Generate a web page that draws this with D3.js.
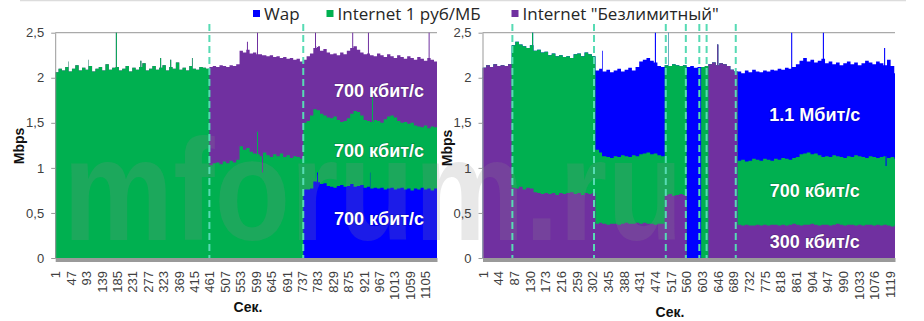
<!DOCTYPE html>
<html><head><meta charset="utf-8">
<script src="https://cdn.jsdelivr.net/npm/d3@7/dist/d3.min.js"></script>
<style>
html,body{margin:0;padding:0;background:#fff;}
svg{display:block;}
</style></head><body>
<svg id="c" width="924" height="321"></svg>
<script>
// ---------------- DATA ----------------
// Values sampled every 10 seconds (sample i covers seconds 1+10i .. 10+10i), Mbps
const seriesNames = ["Wap", "Internet 1 руб/МБ", "Internet \"Безлимитный\""];
const yTicks = [0, 0.5, 1, 1.5, 2, 2.5];
const leftTicks = [1,47,93,139,185,231,277,323,369,415,461,507,553,599,645,691,737,783,829,875,921,967,1013,1059,1105];
const rightTicks = [1,44,87,130,173,216,259,302,345,388,431,474,517,560,603,646,689,732,775,818,861,904,947,990,1033,1076,1119];
const leftN = 1140, rightN = 1133, sampleStep = 10, spikeWidth = 3;

const leftWap = [
 0,0,0,0,0,0,0,0,0,0, 0,0,0,0,0,0,0,0,0,0, 0,0,0,0,0,0,0,0,0,0, 0,0,0,0,0,0,0,0,0,0,
 0,0,0,0,0,0,0,0,0,0, 0,0,0,0,0,0,0,0,0,0, 0,0,0,0,0,0,0,0,0,0, 0,0,0,0,
 0.76,0.76,0.77,0.85,0.84,0.82,0.83,0.80,0.79,0.78,
 0.80,0.81,0.79,0.80,0.82,0.79,0.80,0.81,0.78,0.79,
 0.77,0.78,0.77,0.78,0.76,0.77,0.78,0.76,0.77,0.78,
 0.76,0.77,0.75,0.77,0.76,0.78,0.76,0.77,0.75,0.77
];
const leftInet = [
 2.06,2.10,2.08,2.12,2.07,2.10,2.14,2.08,2.11,2.09,
 2.13,2.07,2.10,2.12,2.08,2.15,2.09,2.11,2.12,2.08,
 2.10,2.13,2.07,2.11,2.09,2.12,2.16,2.08,2.10,2.13,
 2.09,2.11,2.14,2.08,2.12,2.10,2.17,2.09,2.11,2.08,
 2.13,2.10,2.09,2.12,2.11,2.10,
 1.03,1.05,1.06,1.04,1.07,1.05,1.08,1.06,1.09,
 1.24,1.20,1.22,1.18,1.16,
 1.15,1.13,1.17,1.14,1.12,1.15,1.13,1.16,1.12,1.14,1.11,1.13,1.12,1.10,
 0.74,0.76,0.81,0.80,0.80,0.78,0.75,0.76,0.76,0.79,
 0.73,0.70,0.73,0.75,0.78,0.84,0.82,0.77,0.75,0.73,
 0.74,0.75,0.75,0.72,0.78,0.80,0.80,0.80,0.75,0.72,
 0.75,0.72,0.75,0.70,0.70,0.67,0.71,0.67,0.71,0.68
];
const leftUnlim = [
 0,0,0,0,0,0,0,0,0,0, 0,0,0,0,0,0,0,0,0,0, 0,0,0,0,0,0,0,0,0,0, 0,0,0,0,0,0,0,0,0,0,
 0,0,0,0,0,0,
 1.09,1.08,1.06,1.10,1.06,1.07,1.06,1.07,1.06,
 1.06,1.08,1.09,1.09,1.12,
 1.11,1.13,1.08,1.10,1.13,1.08,1.11,1.06,1.11,1.07,1.11,1.07,1.09,1.08,
 0.70,0.72,0.69,0.68,0.71,0.70,0.74,0.72,0.71,0.70,
 0.72,0.77,0.74,0.75,0.73,0.72,0.69,0.70,0.73,0.75,
 0.74,0.71,0.75,0.75,0.69,0.69,0.66,0.66,0.73,0.73,
 0.70,0.75,0.72,0.73,0.77,0.76,0.72,0.78,0.74,0.73
];
// short peaks: [second, wap, inet, unlim]
const leftSpikes = [
 [40,0,2.18,0],[100,0,2.20,0],[182,0,2.50,0],[255,0,2.19,0],[314,0,2.22,0],[344,0,2.20,0],[409,0,2.22,0],
 [573,0,1.22,1.18],[603,0,1.40,1.10],[618,0,0.95,1.30],
 [776,0.85,0.80,0.85],[782,0.95,0.69,0.70],[887,0.82,0.78,0.90],[934,0.79,0.73,0.98],
 [940,0.95,0.56,0.74],[946,0.77,1.02,0.46],[1115,0.77,0.67,1.06]
];

const rightWap = [
 0,0,0,0,0,0,0,0,
 0,0,0,0,0,0,0,0,0,0,0,0,0,0,0,0,0,0,0,0,0,0,0,
 0.88,0.93,0.94,0.97,0.95,0.95,0.98,0.93,0.96,0.99,0.94,0.99,1.03,1.04,1.05,1.04,1.01,0.99,0.99,
 0,0,0,0,0,0,
 2.12,2.13,2.11,2.12,
 0,0,
 0,0,0,0,0,0,0,0,
 0.99,0.96,1.01,0.98,0.99,0.98,0.98,0.98,0.98,1.01,
 0.98,1.01,0.98,1.01,1.01,1.01,1.03,1.04,1.06,1.01,
 1.05,1.01,1.05,1.09,1.03,1.06,1.01,1.04,1.02,1.05,
 1.05,1.03,1.03,1.01,1.04,1.08,1.04,1.03,1.07,1.04,
 1.01,1.09,1.01,0.95
];
const rightInet = [
 0,0,0,0,0,0,0,0,
 1.58,1.63,1.58,1.59,1.55,1.59,1.57,1.59,1.57,1.57,1.54,1.55,1.54,1.53,1.52,1.52,1.49,1.55,1.55,1.54,1.56,1.55,1.52,
 0.82,0.78,0.75,0.75,0.73,0.75,0.75,0.76,0.74,0.74,0.76,0.74,0.77,0.77,0.79,0.77,0.79,0.76,0.75,
 1.44,1.42,1.46,1.44,1.42,1.44,
 0,0,0,0,
 2.12,2.13,
 0,0,0,0,0,0,0,0,
 0.71,0.73,0.70,0.72,0.74,0.72,0.72,0.73,0.73,0.71,
 0.73,0.73,0.74,0.74,0.72,0.73,0.75,0.79,0.79,0.80,
 0.77,0.79,0.78,0.75,0.76,0.76,0.77,0.75,0.75,0.75,
 0.76,0.75,0.78,0.76,0.76,0.74,0.76,0.76,0.74,0.76,
 0.76,0.75,0.77,0.74
];
const rightUnlim = [
 2.11,2.14,2.12,2.15,2.13,2.14,2.13,2.15,
 0.78,0.77,0.79,0.76,0.78,0.77,0.73,0.72,0.71,0.72,0.71,0.72,0.70,0.72,0.71,0.72,0.73,0.71,0.72,0.70,0.72,0.71,0.72,
 0.38,0.39,0.38,0.37,0.38,0.38,0.37,0.38,0.39,0.38,0.38,0.39,0.38,0.39,0.38,0.38,0.37,0.38,0.38,
 0.70,0.71,0.69,0.70,0.71,0.70,
 0,0,0,0,
 0,0,
 2.15,2.17,2.14,2.16,2.15,2.13,2.09,2.07,
 0.37,0.36,0.37,0.36,0.36,0.37,0.36,0.37,0.36,0.37,
 0.37,0.36,0.37,0.36,0.37,0.38,0.37,0.36,0.37,0.37,
 0.38,0.37,0.36,0.37,0.37,0.36,0.37,0.38,0.37,0.36,
 0.37,0.37,0.36,0.37,0.36,0.37,0.37,0.36,0.37,0.36,
 0.37,0.36,0.35,0.36
];
const rightSpikes = [
 [137,0,1.73,0.77],[329,1.17,0.75,0.38],[474,1.34,0.79,0.37],[510,0,1.80,0.70],[645,0,0,2.37],
 [848,1.41,0.72,0.37],[935,1.38,0.75,0.37],[1103,1.20,0.76,0.37],[1107,1.12,0.65,0.37]
];

// switch-over moments (seconds) marked with dashed lines
const leftMarks = [461, 741];
const rightMarks = [83, 307, 504, 559, 596, 616, 696];

// rate annotations: [text, second, Mbps]
const leftNotes = [["700 кбит/с", 967, 1.785], ["700 кбит/с", 967, 1.12], ["700 кбит/с", 967, 0.366]];
const rightNotes = [["1.1 Мбит/с", 913, 1.52], ["700 кбит/с", 913, 0.676], ["300 кбит/с", 913, 0.111]];

// ---------------- DRAW ----------------
const svg = d3.select("#c");
const colors = {wap: "#0000ff", inet: "#00b050", unlim: "#7030a0"};
const y = d3.scaleLinear().domain([0, 2.5]).range([258, 32.7]);
const fontAxis = "'Liberation Sans', Arial, sans-serif";

svg.append("line").attr("x1", 20).attr("x2", 906).attr("y1", 0.5).attr("y2", 0.5)
  .attr("stroke", "#dcdcdc").attr("stroke-width", 1.5);

function buildPoints(wap, inet, unlim, spikes, N) {
  const n = wap.length;
  if (inet.length !== n || unlim.length !== n) console.error("length mismatch", n, inet.length, unlim.length);
  const pts = [];
  for (let i = 0; i < n; i++) pts.push({t: 1 + i * sampleStep, wap: wap[i], inet: inet[i], unlim: unlim[i], o: 1});
  spikes.forEach(s => {
    pts.push({t: s[0], wap: s[1], inet: s[2], unlim: s[3], o: 2});
    const back = s[0] + spikeWidth;
    const j = Math.min(n - 1, Math.floor((back - 1) / sampleStep));
    pts.push({t: back, wap: wap[j], inet: inet[j], unlim: unlim[j], o: 0});
  });
  pts.push({t: N, wap: wap[n - 1], inet: inet[n - 1], unlim: unlim[n - 1], o: 0});
  pts.sort((a, b) => a.t - b.t || a.o - b.o);
  return pts;
}

const panels = [
  {x0: 55.2, x1: 437, N: leftN, wap: leftWap, inet: leftInet, unlim: leftUnlim, spikes: leftSpikes,
   order: ["wap", "inet", "unlim"], ticks: leftTicks, marks: leftMarks, notes: leftNotes,
   mbps: [23.5, 146], sek: [248, 311.5], id: "L"},
  {x0: 482.5, x1: 895, N: rightN, wap: rightWap, inet: rightInet, unlim: rightUnlim, spikes: rightSpikes,
   order: ["unlim", "inet", "wap"], ticks: rightTicks, marks: rightMarks, notes: rightNotes,
   mbps: [452, 148], sek: [670, 316.5], id: "R"}
];

panels.forEach(p => {
  p.x = d3.scaleLinear().domain([1, p.N]).range([p.x0, p.x1]);
  const g = svg.append("g");
  g.selectAll("line.grid").data(yTicks).join("line")
    .attr("x1", p.x0).attr("x2", p.x1).attr("y1", d => y(d)).attr("y2", d => y(d))
    .attr("stroke", "#aaaaaa").attr("stroke-width", 1.3);
  svg.append("clipPath").attr("id", "clip" + p.id).append("rect")
    .attr("x", p.x0).attr("y", y(2.5) - 1).attr("width", p.x1 - p.x0).attr("height", y(0) - y(2.5) + 1);
  const pts = buildPoints(p.wap, p.inet, p.unlim, p.spikes, p.N);
  const stacked = d3.stack().keys(p.order)(pts);
  // each layer is filled from the baseline to its stacked top, top layer first (no seams)
  const area = d3.area().curve(d3.curveStepAfter)
    .x(d => p.x(d.data.t)).y0(y(0)).y1(d => y(d[1]));
  g.append("g").attr("clip-path", `url(#clip${p.id})`)
    .selectAll("path").data(stacked.slice().reverse()).join("path")
    .attr("d", area).attr("fill", d => colors[d.key]);
});

// watermark
svg.append("text").text("mforum.ru")
  .attr("x", 63).attr("y", 240)
  .attr("textLength", 620).attr("lengthAdjust", "spacingAndGlyphs")
  .attr("font-family", "'Liberation Sans', Arial, sans-serif").attr("font-weight", "bold")
  .attr("font-size", 145).attr("fill", "#8a8a8a").attr("fill-opacity", 0.2);

panels.forEach(p => {
  const g = svg.append("g");
  g.selectAll("line.mark").data(p.marks).join("line")
    .attr("x1", d => p.x(d)).attr("x2", d => p.x(d)).attr("y1", 24).attr("y2", y(0))
    .attr("stroke", "#57dbb4").attr("stroke-width", 2).attr("stroke-dasharray", "7,4");

  const ya = g.append("g").attr("transform", `translate(${p.x0},0)`)
    .call(d3.axisLeft(y).tickValues(yTicks).tickSize(4).tickSizeOuter(0).tickPadding(7)
      .tickFormat(d => String(d).replace(".", ",")));
  ya.select(".domain").attr("stroke", "#999");
  ya.selectAll(".tick line").attr("stroke", "#999");
  ya.selectAll("text").attr("font-family", fontAxis).attr("font-size", 13).attr("fill", "#404040");

  const xa = g.append("g").attr("transform", "translate(0,259.5)")
    .call(d3.axisBottom(p.x).tickValues(p.ticks).tickFormat(d3.format("d")).tickSize(0).tickSizeOuter(0));
  xa.select(".domain").attr("stroke", "#9a9a9a").attr("stroke-width", 4);
  xa.selectAll(".tick text")
    .attr("transform", "rotate(-90)").attr("text-anchor", "end")
    .attr("x", -11.5).attr("y", 0).attr("dy", "0.35em")
    .attr("font-family", fontAxis).attr("font-size", 13).attr("fill", "#404040");

  g.append("text").text("Mbps")
    .attr("transform", `translate(${p.mbps[0]},${p.mbps[1]}) rotate(-90)`)
    .attr("text-anchor", "middle").attr("font-family", fontAxis).attr("font-weight", "bold")
    .attr("font-size", 14).attr("fill", "#111");
  g.append("text").text("Сек.").attr("x", p.sek[0]).attr("y", p.sek[1])
    .attr("text-anchor", "middle").attr("font-family", fontAxis).attr("font-weight", "bold")
    .attr("font-size", 14).attr("fill", "#111");

  g.selectAll("text.note").data(p.notes).join("text")
    .text(d => d[0]).attr("x", d => p.x(d[1])).attr("y", d => y(d[2]))
    .attr("text-anchor", "middle").attr("font-family", fontAxis).attr("font-weight", "bold")
    .attr("font-size", 18).attr("fill", "#ffffff")
    .style("paint-order", "stroke").attr("stroke", "rgba(0,0,0,0.18)").attr("stroke-width", 1.5);
});

// legend
const legend = svg.append("g");
const legendItems = [
  {key: "wap", label: seriesNames[0], x: 253},
  {key: "inet", label: seriesNames[1], x: 326.5},
  {key: "unlim", label: seriesNames[2], x: 511.5}
];
legendItems.forEach(it => {
  legend.append("rect").attr("x", it.x).attr("y", 10).attr("width", 7).attr("height", 7).attr("fill", colors[it.key]);
  legend.append("text").text(it.label).attr("x", it.x + 11).attr("y", 20)
    .attr("font-family", "'Open Sans', sans-serif").attr("font-size", 17).attr("fill", "#262626");
});
</script>
</body></html>
